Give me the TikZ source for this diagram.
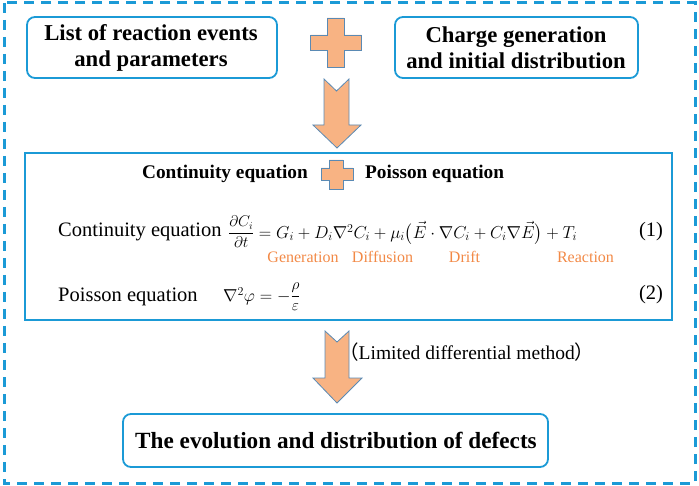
\documentclass[tikz,border=0pt]{standalone}
\usepackage{fontspec}
\setmainfont{Liberation Serif}
\newfontfamily\cjk{Noto Sans CJK SC}
\usepackage{amsmath}
\usepackage{graphicx}
\definecolor{bblue}{RGB}{27,154,214}
\definecolor{ofill}{RGB}{248,179,131}
\definecolor{oline}{RGB}{90,138,180}
\definecolor{otext}{RGB}{242,137,70}
\tikzset{
  rbox/.style={draw=bblue, line width=1.8pt, rounded corners=8pt},
  shapeo/.style={fill=ofill, draw=oline, line width=0.8pt, line join=miter},
  btxt/.style={font=\fontsize{22.7}{26}\selectfont\bfseries, align=center, inner sep=0pt},
  mtxt/.style={font=\fontsize{19.3}{23}\selectfont\bfseries, inner sep=0pt},
  rtxt/.style={font=\fontsize{20.5}{24}\selectfont, inner sep=0pt},
  mathtxt/.style={font=\fontsize{18.4}{22}\selectfont, inner sep=0pt},
  lbl/.style={font=\fontsize{16}{19}\selectfont, text=otext, inner sep=0pt},
}
\begin{document}
\begin{tikzpicture}[x=1pt,y=-1pt]
\useasboundingbox (0,0) rectangle (699,486);
% outer dashed frame
\draw[bblue, line width=3pt, dash pattern=on 10pt off 7pt] (4,3) rectangle (695,483);
% top boxes
\draw[rbox] (27,17) rectangle (277,78);
\node[btxt] (b1) at (151,48) {List of reaction events\\and parameters};
\draw[rbox] (395,17) rectangle (638,78);
\node[btxt] (b2) at (516,48) {Charge generation\\and initial distribution};
% top plus
\draw[shapeo] (327,18) -- (344,18) -- (344,35) -- (361.5,35) -- (361.5,50) -- (344,50) -- (344,67) -- (327,67) -- (327,50) -- (310.5,50) -- (310.5,35) -- (327,35) -- cycle;
% arrow 1
\draw[shapeo] (324,79) -- (336.5,91) -- (349,79) -- (349,125) -- (361,125) -- (337,148) -- (313,125) -- (324,125) -- cycle;
% middle box
\draw[bblue, line width=2pt] (25,153) rectangle (672,320);
\node[mtxt, anchor=east] (ce) at (308,174) {Continuity equation};
\node[mtxt, anchor=west] (pe) at (365,174) {Poisson equation};
\draw[shapeo] (329,160) -- (343,160) -- (343,168) -- (353,168) -- (353,180) -- (343,180) -- (343,189) -- (329,189) -- (329,180) -- (321,180) -- (321,168) -- (329,168) -- cycle;
% equation 1
\node[rtxt, anchor=west] (l1) at (58,232) {Continuity equation};
\node[mathtxt, anchor=west] (e1) at (228,232) {\raisebox{1pt}{\scalebox{0.9}{$\dfrac{\partial C_i}{\partial t}$}}${} = G_i + D_i\nabla^2 C_i + \mu_i\bigl(\vec{E}\cdot\nabla C_i + C_i\nabla\vec{E}\bigr) + T_i$};
\node[rtxt] (n1) at (651,232) {(1)};
\node[lbl] (g) at (303,257) {Generation};
\node[lbl] (d) at (382.5,257) {Diffusion};
\node[lbl] (dr) at (464.5,257) {Drift};
\node[lbl] (r) at (585.5,257) {Reaction};
% equation 2
\node[rtxt, anchor=west] (l2) at (58,297) {Poisson equation};
\node[mathtxt, anchor=west] (e2) at (223,297) {$\nabla^2\varphi = -$\raisebox{1pt}{\scalebox{0.9}{$\dfrac{\rho}{\varepsilon}$}}};
\node[rtxt] (n2) at (651,295) {(2)};
% arrow 2
\draw[shapeo] (325,331) -- (337,342) -- (349,331) -- (349,378) -- (362,378) -- (337,403) -- (313,378) -- (325,378) -- cycle;
\node[font=\fontsize{19.5}{23}\selectfont, anchor=west, inner sep=0pt] (lm) at (339,352) {{\cjk （}Limited differential method{\cjk ）}};
% bottom box
\draw[rbox] (123,414) rectangle (548,467);
\node[btxt, font=\fontsize{23.2}{26}\selectfont\bfseries] (b3) at (336,440.5) {The evolution and distribution of defects};
\end{tikzpicture}
\end{document}
